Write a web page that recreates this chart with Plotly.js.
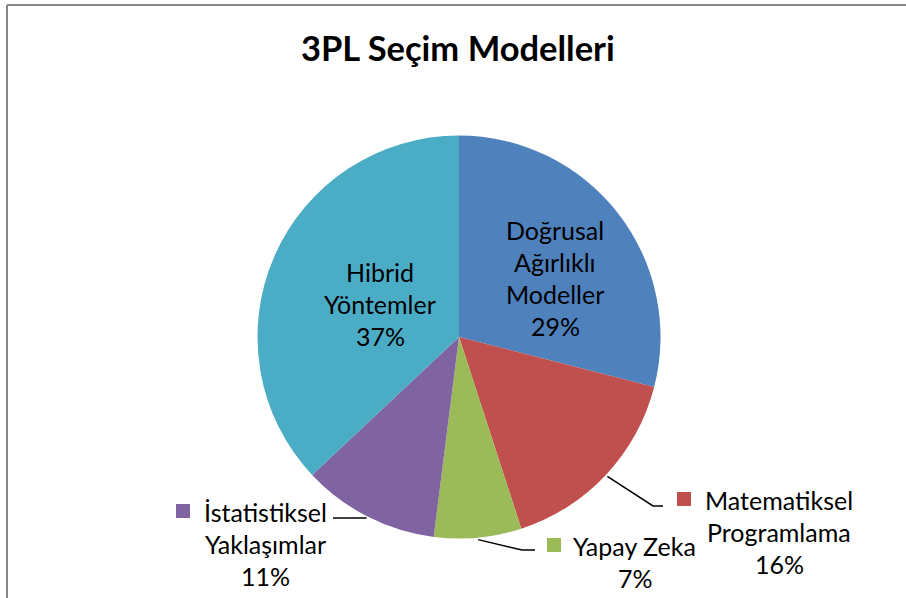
<!DOCTYPE html>
<html><head><meta charset="utf-8">
<script src="https://cdn.plot.ly/plotly-3.0.1.min.js"></script>
<style>html,body{margin:0;padding:0;background:#fff;}#chart{width:906px;height:598px;}</style>
</head><body><div id="chart"></div>
<script>
// ---- data ----
var categories = ["Doğrusal Ağırlıklı Modeller", "Matematiksel Programlama", "Yapay Zeka", "İstatistiksel Yaklaşımlar", "Hibrid Yöntemler"];
var labelLines = [["Doğrusal", "Ağırlıklı", "Modeller"], ["Matematiksel", "Programlama"], ["Yapay Zeka"], ["İstatistiksel", "Yaklaşımlar"], ["Hibrid", "Yöntemler"]];
var values = [29, 16, 7, 11, 37];
var colors = ["#4F81BD", "#C0504D", "#9BBB59", "#8064A2", "#4BACC6"];
var chartTitle = "3PL Seçim Modelleri";

// ---- layout helpers ----
var W = 906, H = 598;
var cx = 459, cy = 337, R = 201.5;
function px(x) { return x / W; }
function py(y) { return 1 - y / H; }
var FONT = "Lato, 'Open Sans', sans-serif";
var FS = 25;

var total = values.reduce(function (a, b) { return a + b; }, 0);
var cum = 0;
var mids = values.map(function (v) { var m = (cum + v / 2) / total; cum += v; return m * 2 * Math.PI; });
function edge(i, f) { return [cx + R * f * Math.sin(mids[i]), cy - R * f * Math.cos(mids[i])]; }
function pct(i) { return Math.round(values[i] / total * 100) + "%"; }

// label placement (layout only)
var place = [
  { inside: true, x: 555, y: 230 },
  { inside: false, x: 779, y: 500, sq: 684, elbow: [653, 506], end: 663 },
  { inside: false, x: 634, y: 546, sq: 554, elbow: [522, 550], end: 535, pctX: 635 },
  { inside: false, x: 265, y: 512, sq: 183, elbow: null, end: 333, lineY: 518 },
  { inside: true, x: 380, y: 272 }
];
var LH = 32;

var annotations = [{
  text: "<b>" + chartTitle + "</b>", xref: "paper", yref: "paper", x: px(458), y: py(48),
  xanchor: "center", yanchor: "middle", showarrow: false,
  font: { family: FONT, size: 34.5, color: "#000" }
}];
var shapes = [
  { type: "line", xref: "paper", yref: "paper", x0: px(7), x1: px(7), y0: py(5), y1: py(600), line: { color: "#878787", width: 2 } },
  { type: "line", xref: "paper", yref: "paper", x0: px(7), x1: px(910), y0: py(5), y1: py(5), line: { color: "#878787", width: 2 } }
];

place.forEach(function (p, i) {
  var lines = labelLines[i].concat([pct(i)]);
  lines.forEach(function (t, k) {
    var x = p.x;
    if (!p.inside && k === lines.length - 1 && p.pctX) x = p.pctX;
    annotations.push({
      text: t, xref: "paper", yref: "paper", x: px(x), y: py(p.y + k * LH),
      xanchor: "center", yanchor: "middle", showarrow: false,
      font: { family: FONT, size: FS, color: "#000" }
    });
  });
  if (!p.inside) {
    var sqY = p.y;
    shapes.push({ type: "rect", xref: "paper", yref: "paper",
      x0: px(p.sq - 7), x1: px(p.sq + 7), y0: py(sqY - 7 - 1), y1: py(sqY + 7 - 1),
      fillcolor: colors[i], line: { width: 0 } });
    var s = edge(i, 1.01);
    var pts;
    if (p.elbow) {
      pts = [s, p.elbow, [p.end, p.elbow[1]]];
    } else {
      pts = [[s[0], p.lineY], [p.end, p.lineY]];
    }
    var path = "M" + pts.map(function (q) { return px(q[0]) + "," + py(q[1]); }).join(" L");
    shapes.push({ type: "path", xref: "paper", yref: "paper", path: path, line: { color: "#000", width: 1.5 } });
  }
});

var trace = {
  type: "pie",
  labels: categories,
  values: values,
  sort: false,
  direction: "clockwise",
  rotation: 0,
  textinfo: "none",
  hoverinfo: "label+percent",
  marker: { colors: colors, line: { width: 0 } },
  domain: { x: [px(cx - R), px(cx + R)], y: [py(cy + R), py(cy - R)] },
  showlegend: false
};

var layout = {
  width: W, height: H,
  margin: { l: 0, r: 0, t: 0, b: 0 },
  paper_bgcolor: "#fff",
  showlegend: false,
  annotations: annotations,
  shapes: shapes
};
Plotly.newPlot("chart", [trace], layout, { displayModeBar: false, staticPlot: true });
</script></body></html>
